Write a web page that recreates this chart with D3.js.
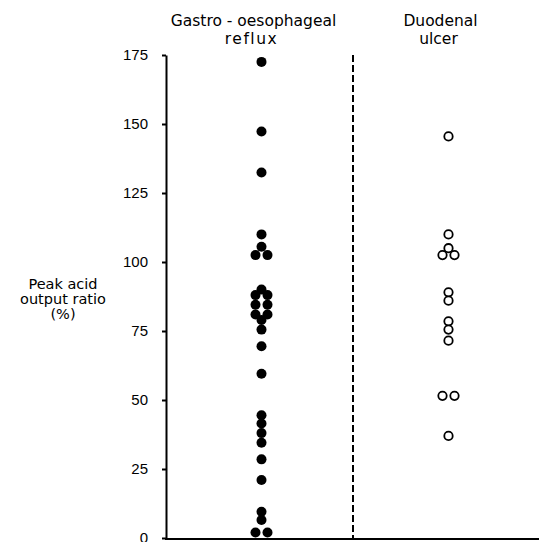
<!DOCTYPE html>
<html>
<head>
<meta charset="utf-8">
<script src="https://cdn.jsdelivr.net/npm/d3@7"></script>
<style>
  body { margin: 0; background: #fff; }
  svg { display: block; font-family: "DejaVu Sans", sans-serif; }
</style>
</head>
<body>
<script>
'use strict';

// groups and values
const groups = ["GOR", "DU"];
const groupLabels = [["Gastro - oesophageal", "reflux"], ["Duodenal", "ulcer"]];
const gorValues = [172.5, 147.3, 132.4, 110, 105.5, 102.5, 102.5, 90, 88, 88, 84.5, 84.5,
  81, 81, 79, 75.5, 69.5, 59.5, 44.5, 41.5, 38, 34.5, 28.5, 21, 9.5, 6.5, 2, 2];
const duValues = [145.5, 110, 105, 102.5, 102.5, 89, 86, 78.5, 75.5, 71.5, 51.5, 51.5, 37];
const yTicks = [0, 25, 50, 75, 100, 125, 150, 175];
const yLabel = ["Peak acid", "output ratio", "(%)"];

let svg = d3.select('body')
  .append('svg')
  .attr('width', 539)
  .attr('height', 542);

let xScale = d3.scaleBand()
  .domain(groups)
  .range([166, 540])
  .padding(0);

let yScale = d3.scaleLinear()
  .domain([0, 175])
  .range([538, 55]);

// spread equal values sideways so they sit next to each other
function dodge(values, group) {
  let counts = d3.rollup(values, v => v.length, d => d);
  let seen = new Map();
  return values.map(v => {
    let n = counts.get(v);
    let i = seen.get(v) || 0;
    seen.set(v, i + 1);
    return { group: group, value: v, offset: (i - (n - 1) / 2) * 12 };
  });
}

let points = dodge(gorValues, "GOR").concat(dodge(duValues, "DU"));

// y axis
let yAxis = d3.axisLeft(yScale)
  .tickValues(yTicks)
  .tickSize(4)
  .tickSizeOuter(0)
  .tickPadding(14);

let yg = svg.append('g')
  .attr('transform', 'translate(166, 0)')
  .call(yAxis);
yg.select('.domain').attr('stroke', '#000').attr('stroke-width', 2);
yg.selectAll('.tick line').attr('stroke', '#000').attr('stroke-width', 2);
yg.selectAll('.tick text')
  .attr('fill', '#000')
  .style('font-size', '15px');

// bottom line
svg.append('line')
  .attr('x1', 165)
  .attr('x2', 540)
  .attr('y1', yScale(0) + 1)
  .attr('y2', yScale(0) + 1)
  .attr('stroke', '#000')
  .attr('stroke-width', 2);

// dashed divider between the two groups
svg.append('line')
  .attr('x1', xScale("DU"))
  .attr('x2', xScale("DU"))
  .attr('y1', yScale(175))
  .attr('y2', yScale(0))
  .attr('stroke', '#000')
  .attr('stroke-width', 2)
  .attr('stroke-dasharray', '7,3');

// group headings
groups.forEach((g, i) => {
  let cx = xScale(g) + xScale.bandwidth() / 2 - 6;
  svg.append('text')
    .attr('x', cx)
    .attr('y', 26)
    .attr('text-anchor', 'middle')
    .style('font-size', '15.5px')
    .text(groupLabels[i][0]);
  svg.append('text')
    .attr('x', cx - 2)
    .attr('y', 44)
    .attr('text-anchor', 'middle')
    .style('font-size', '15.5px')
    .style('letter-spacing', i === 0 ? '1.5px' : '0px')
    .text(groupLabels[i][1]);
});

// y axis title
yLabel.forEach((t, i) => {
  svg.append('text')
    .attr('x', 63)
    .attr('y', 289 + i * 15)
    .attr('text-anchor', 'middle')
    .style('font-size', '14.5px')
    .text(t);
});

// points
svg.selectAll('.dot')
  .data(points)
  .enter()
  .append('circle')
  .attr('class', 'dot')
  .attr('cx', d => xScale(d.group) + xScale.bandwidth() / 2 + 2 + d.offset)
  .attr('cy', d => yScale(d.value))
  .attr('r', d => d.group === "GOR" ? 5 : 4.2)
  .style('fill', d => d.group === "GOR" ? '#000' : '#fff')
  .style('stroke', '#000')
  .style('stroke-width', d => d.group === "GOR" ? 0 : 1.8);
</script>
</body>
</html>
